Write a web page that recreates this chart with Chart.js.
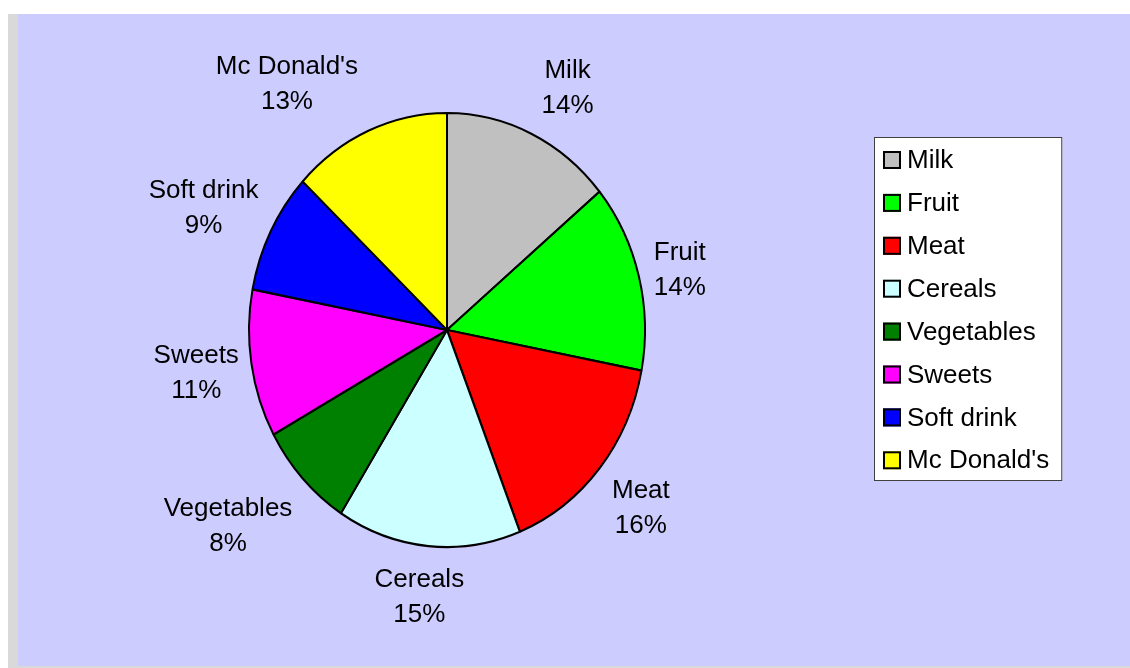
<!DOCTYPE html>
<html>
<head>
<meta charset="utf-8">
<script src="https://cdn.jsdelivr.net/npm/chart.js@4.4.1/dist/chart.umd.min.js"></script>
<style>
  html, body { margin: 0; padding: 0; background: #ffffff; }
  #frame { position: absolute; left: 8px; top: 14px; width: 1122px; height: 654px; background: #d9d9d9; }
  #area { position: absolute; left: 18px; top: 14px; width: 1112px; height: 652px; background: #ccccff; }
  #foodChart { position: absolute; left: 0; top: 0; }
</style>
</head>
<body>
<div id="frame"></div>
<div id="area"><canvas id="foodChart" width="1112" height="652"></canvas></div>
<script>
// data
const categories = ["Milk", "Fruit", "Meat", "Cereals", "Vegetables", "Sweets", "Soft drink", "Mc Donald's"];
const shares = [14, 14, 16, 15, 8, 11, 9, 13];
const sliceColors = ["#c0c0c0", "#00ff00", "#ff0000", "#ccffff", "#008000", "#ff00ff", "#0000ff", "#ffff00"];

// label look
const FONT = "26px 'Liberation Sans', Arial, sans-serif";
const labelNudgeX = [9, -21, -8, -3, -28, 8, -10, -56];
const labelNudgeY = [-2, 5, 6, 0, 12, 0, -2, -2];
const ySquash = 217 / 198;   // the pie in the picture is a bit taller than wide

const canvas = document.getElementById("foodChart");

// stretch the pie vertically around its centre
const ellipsePlugin = {
    id: "ellipse",
    beforeDatasetsDraw(chart) {
        const arc = chart.getDatasetMeta(0).data[0];
        const ctx = chart.ctx;
        ctx.save();
        ctx.translate(arc.x, arc.y);
        ctx.scale(1, ySquash);
        ctx.translate(-arc.x, -arc.y);
    },
    afterDatasetsDraw(chart) {
        chart.ctx.restore();
    }
};

// outside labels "name / pct"
const outsideLabels = {
    id: "outsideLabels",
    afterDraw(chart) {
        const ctx = chart.ctx;
        const total = shares.reduce((a, b) => a + b, 0);
        const meta = chart.getDatasetMeta(0);
        ctx.save();
        ctx.font = FONT;
        ctx.fillStyle = "#000";
        ctx.textAlign = "center";
        ctx.textBaseline = "alphabetic";
        meta.data.forEach((arc, i) => {
            const mid = (arc.startAngle + arc.endAngle) / 2;
            const r = arc.outerRadius;
            const cx = arc.x + Math.cos(mid) * (r + 64) + labelNudgeX[i];
            const cy = arc.y + Math.sin(mid) * (r * ySquash + 50) + labelNudgeY[i];
            const pct = Math.round(shares[i] / total * 100) + "%";
            ctx.fillText(categories[i], cx, cy - 8.5);
            ctx.fillText(pct, cx, cy + 26.5);
        });
        ctx.restore();
    }
};

// boxed legend on the right
const boxLegend = {
    id: "boxLegend",
    afterDraw(chart) {
        const ctx = chart.ctx;
        const left = 856, top = 123, rowH = 42.9;
        ctx.save();
        ctx.font = FONT;
        let maxW = 0;
        categories.forEach(c => { maxW = Math.max(maxW, ctx.measureText(c).width); });
        const w = 9 + 18 + 6 + maxW + 13;
        const h = rowH * categories.length + 0.8;
        ctx.fillStyle = "#ffffff";
        ctx.fillRect(left, top, w, h);
        ctx.strokeStyle = "#404040";
        ctx.lineWidth = 1;
        ctx.strokeRect(left + 0.5, top + 0.5, w - 1, h - 1);
        ctx.textAlign = "left";
        ctx.textBaseline = "middle";
        categories.forEach((c, i) => {
            const yc = top + 23 + i * rowH;
            ctx.fillStyle = sliceColors[i];
            ctx.fillRect(left + 9, yc - 9, 18, 18);
            ctx.strokeStyle = "#000";
            ctx.lineWidth = 2;
            ctx.strokeRect(left + 10, yc - 8, 16, 16);
            ctx.fillStyle = "#000";
            ctx.fillText(c, left + 33, yc + 1);
        });
        ctx.restore();
    }
};

new Chart(canvas, {
    type: "pie",
    data: {
        labels: categories,
        datasets: [{
            data: shares,
            backgroundColor: sliceColors,
            borderColor: "#000000",
            borderWidth: 2
        }]
    },
    options: {
        responsive: false,
        animation: false,
        radius: 198,
        layout: { padding: { left: 231, top: 118, right: 485, bottom: 138 } },
        plugins: {
            legend: { display: false },
            tooltip: { enabled: false }
        }
    },
    plugins: [ellipsePlugin, outsideLabels, boxLegend]
});
</script>
</body>
</html>
